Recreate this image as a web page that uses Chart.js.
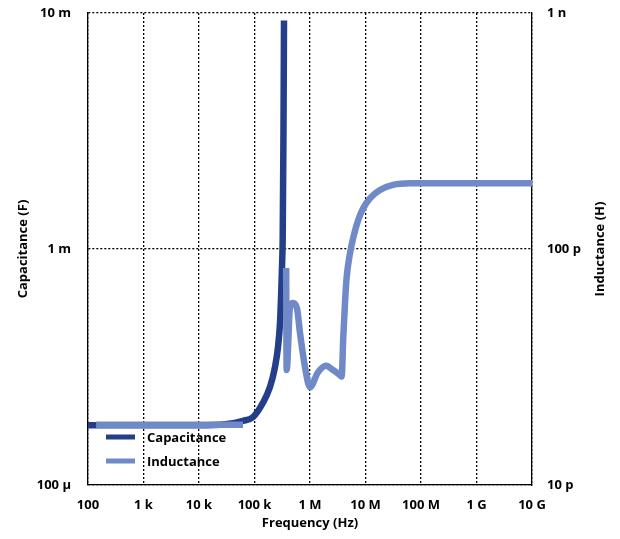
<!DOCTYPE html>
<html>
<head>
<meta charset="utf-8">
<script src="https://cdn.jsdelivr.net/npm/chart.js@4/dist/chart.umd.min.js"></script>
<style>
  html, body { margin: 0; padding: 0; background: #fff; }
  #wrap { width: 620px; height: 539px; position: relative; }
</style>
</head>
<body>
<div id="wrap"><canvas id="graph"></canvas></div>
<script>
// frequency ticks and labels
const xTicks = [1e2, 1e3, 1e4, 1e5, 1e6, 1e7, 1e8, 1e9, 1e10];
const xLabels = ['100', '1 k', '10 k', '100 k', '1 M', '10 M', '100 M', '1 G', '10 G'];
const capTicks = [1e-4, 1e-3, 1e-2];
const capLabels = ['100 μ', '1 m', '10 m'];
const indTicks = [1e-11, 1e-10, 1e-9];
const indLabels = ['10 p', '100 p', '1 n'];

// Capacitance (F)
const capFreq = [100, 1e3, 1e4, 3e4, 62e3, 94e3, 142e3, 190e3, 234e3, 265e3, 288e3, 304e3, 317e3, 322e3, 333e3, 340e3];
const capValues = [179e-6, 179e-6, 179e-6, 181e-6, 187e-6, 194e-6, 223e-6, 260e-6, 316e-6, 384e-6, 486e-6, 670e-6, 925e-6, 1.09e-3, 3.2e-3, 9.3e-3];

// Inductance (H)
const indFreq = [140, 1e3, 1e4, 62e3, 100e3, 372e3, 380e3, 437e3, 494e3, 583e3, 661e3, 813e3, 1e6, 1.39e6, 1.94e6, 2.6e6, 3.3e6, 3.72e6, 3.98e6, 4.27e6, 4.58e6, 5.26e6, 6.03e6, 7.41e6, 9.12e6, 12e6, 18.2e6, 31.3e6, 63e6, 1e9, 1e10];
const indValues = [18e-12, 18e-12, 18e-12, 18e-12, null, 83e-12, 30.7e-12, 57e-12, 59e-12, 56e-12, 44e-12, 31.6e-12, 26e-12, 30e-12, 32e-12, 30.7e-12, 29.5e-12, 28.8e-12, 42.4e-12, 59e-12, 76e-12, 96e-12, 112e-12, 133e-12, 149e-12, 164e-12, 178e-12, 187e-12, 190e-12, 190e-12, 190e-12];

const capColor = 'rgb(36,62,138)';
const indColor = 'rgb(112,137,200)';
const font = { family: '"Open Sans", sans-serif', size: 13, weight: 'bold' };

// legend inside the plot area + right axis title reading upwards
const extras = {
    id: 'extras',
    afterDatasetsDraw(chart) {
        const ctx = chart.ctx;
        const items = [['Capacitance', capColor], ['Inductance', indColor]];
        ctx.save();
        ctx.font = 'bold 13px "Open Sans", sans-serif';
        ctx.textBaseline = 'middle';
        items.forEach((it, i) => {
            const y = 437 + i * 24;
            ctx.strokeStyle = it[1];
            ctx.lineWidth = 5;
            ctx.beginPath();
            ctx.moveTo(106, y);
            ctx.lineTo(135, y);
            ctx.stroke();
            ctx.fillStyle = '#000';
            ctx.fillText(it[0], 147, y + 1);
        });
        const a = chart.chartArea;
        ctx.translate(600, (a.top + a.bottom) / 2);
        ctx.rotate(-Math.PI / 2);
        ctx.textAlign = 'center';
        ctx.fillText('Inductance (H)', 0, 0);
        ctx.restore();
    }
};

// keep the plot box where the reference has it
const fitY = axis => { axis.width = 88; axis.paddingTop = 0; axis.paddingBottom = 0; };

const ctx = document.getElementById('graph').getContext('2d');

new Chart(ctx, {
    type: 'line',
    data: {
        datasets: [{
            label: 'Capacitance',
            data: capFreq.map((f, i) => ({ x: f, y: capValues[i] })),
            yAxisID: 'y',
            borderColor: capColor,
            borderWidth: 6.5,
            pointRadius: 0,
            cubicInterpolationMode: 'monotone',
            order: 1
        }, {
            label: 'Inductance',
            data: indFreq.map((f, i) => ({ x: f, y: indValues[i] })),
            yAxisID: 'y2',
            borderColor: indColor,
            borderWidth: 6.5,
            pointRadius: 0,
            spanGaps: false,
            cubicInterpolationMode: 'monotone',
            order: 0
        }]
    },
    options: {
        responsive: true,
        maintainAspectRatio: false,
        animation: false,
        layout: { padding: { top: 13, left: 0, right: 0, bottom: 0 } },
        plugins: {
            legend: { display: false },
            tooltip: { enabled: false }
        },
        scales: {
            x: {
                type: 'logarithmic',
                min: 1e2,
                max: 1e10,
                afterBuildTicks: axis => { axis.ticks = xTicks.map(v => ({ value: v })); },
                afterFit: axis => { axis.height = 54; axis.paddingLeft = 0; axis.paddingRight = 0; },
                ticks: {
                    autoSkip: false,
                    maxRotation: 0,
                    padding: 12,
                    color: '#000',
                    font: font,
                    callback: (v, i) => xLabels[i]
                },
                grid: { color: '#000', lineWidth: 1.3, drawTicks: false },
                border: { color: '#000', width: 1.3, dash: [2, 2] },
                title: { display: true, text: 'Frequency (Hz)', color: '#000', font: font, padding: { top: 10, bottom: 8 } }
            },
            y: {
                type: 'logarithmic',
                position: 'left',
                min: 1e-4,
                max: 1e-2,
                afterBuildTicks: axis => { axis.ticks = capTicks.map(v => ({ value: v })); },
                afterFit: fitY,
                ticks: {
                    padding: 17,
                    color: '#000',
                    font: font,
                    callback: (v, i) => capLabels[i]
                },
                grid: { color: '#000', lineWidth: 1.3, drawTicks: false },
                border: { color: '#000', width: 1.3, dash: [2, 2] },
                title: { display: true, text: 'Capacitance (F)', color: '#000', font: font, padding: { top: 15, bottom: 4 } }
            },
            y2: {
                type: 'logarithmic',
                position: 'right',
                min: 1e-11,
                max: 1e-9,
                afterBuildTicks: axis => { axis.ticks = indTicks.map(v => ({ value: v })); },
                afterFit: fitY,
                ticks: {
                    padding: 15,
                    color: '#000',
                    font: font,
                    callback: (v, i) => indLabels[i]
                },
                grid: { display: false, drawTicks: false },
                border: { color: '#000', width: 1.3, dash: [2, 2] }
            }
        }
    },
    plugins: [extras]
});
</script>
</body>
</html>
